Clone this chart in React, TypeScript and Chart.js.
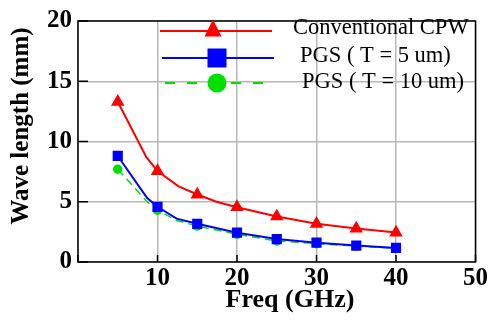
import React, { useEffect, useRef } from "react";
import { Chart, registerables } from "chart.js";

Chart.register(...registerables);

const xTicks = [0, 10, 20, 30, 40, 50];
const yTicks = [0, 5, 10, 15, 20];
const markerFreqs = [5, 10, 15, 20, 25, 30, 35, 40];

const seriesNames = ["Conventional CPW", "PGS ( T = 5 um)", "PGS ( T = 10 um)"];

const redFreq = [5, 8.6, 10, 12.6, 15, 17.4, 20, 25, 30, 35, 40];
const redWave = [13.3, 8.7, 7.55, 6.3, 5.6, 5.0, 4.55, 3.78, 3.17, 2.78, 2.45];

const blueFreq = [5, 8.7, 10, 12.4, 15, 20, 25, 30, 35, 40];
const blueWave = [8.8, 5.3, 4.58, 3.6, 3.17, 2.43, 1.9, 1.6, 1.36, 1.17];

const greenFreq = [5, 8.7, 10, 12.4, 15, 20, 25, 30, 35, 40];
const greenWave = [7.7, 5.0, 4.3, 3.45, 2.98, 2.3, 1.75, 1.52, 1.32, 1.13];

const RED = "#ff0000";
const BLUE = "#0000ff";
const GREEN = "#00e000";
const SERIF = '"Liberation Serif", "Times New Roman", serif';

function pts(xs: number[], ys: number[]) {
  return xs.map((x, i) => ({ x, y: ys[i] }));
}
function radii(xs: number[], r: number) {
  return xs.map((x) => (markerFreqs.includes(x) ? r : 0));
}

function marker(ctx: CanvasRenderingContext2D, style: string, cx: number, cy: number, size: number) {
  ctx.beginPath();
  if (style === "triangle") {
    const h = size;
    ctx.moveTo(cx, cy - h / 2);
    ctx.lineTo(cx + size / 2, cy + h / 2);
    ctx.lineTo(cx - size / 2, cy + h / 2);
    ctx.closePath();
  } else if (style === "rect") {
    ctx.rect(cx - size / 2, cy - size / 2, size, size);
  } else {
    ctx.arc(cx, cy, size / 2, 0, Math.PI * 2);
  }
  ctx.fill();
}

const decorPlugin = {
  id: "decor",
  beforeDatasetsDraw(chart: any) {
    const { ctx, chartArea } = chart;
    const { left, right, top, bottom } = chartArea;
    const xs = chart.scales.x;
    const ys = chart.scales.y;
    ctx.save();
    ctx.strokeStyle = "#000";
    ctx.lineWidth = 1.5;
    ctx.beginPath();
    for (const v of yTicks) {
      const y = ys.getPixelForValue(v);
      ctx.moveTo(left, y);
      ctx.lineTo(left + 10, y);
    }
    for (const v of xTicks) {
      const x = xs.getPixelForValue(v);
      ctx.moveTo(x, bottom);
      ctx.lineTo(x, bottom - 7);
    }
    ctx.stroke();
    ctx.strokeRect(left, top, right - left, bottom - top);
    ctx.restore();
  },
  afterDatasetsDraw(chart: any) {
    const { ctx } = chart;
    ctx.save();
    const rows = [
      { color: RED, dash: [] as number[], style: "triangle", size: 17, x1: 160, x2: 272, mx: 213, my: 28, ly: 31, text: seriesNames[0], tx: 293, ty: 34 },
      { color: BLUE, dash: [] as number[], style: "rect", size: 19, x1: 162, x2: 274, mx: 217, my: 58, ly: 58, text: seriesNames[1], tx: 300, ty: 62 },
      { color: GREEN, dash: [10, 12], style: "circle", size: 19, x1: 165, x2: 272, mx: 217, my: 83, ly: 83, text: seriesNames[2], tx: 302, ty: 88 },
    ];
    for (const row of rows) {
      ctx.strokeStyle = row.color;
      ctx.lineWidth = 2;
      ctx.setLineDash(row.dash);
      ctx.beginPath();
      ctx.moveTo(row.x1, row.ly);
      ctx.lineTo(row.x2, row.ly);
      ctx.stroke();
      ctx.setLineDash([]);
      ctx.fillStyle = row.color;
      marker(ctx, row.style, row.mx, row.my, row.size);
      ctx.fillStyle = "#000";
      ctx.font = `22.5px ${SERIF}`;
      ctx.textAlign = "left";
      ctx.textBaseline = "alphabetic";
      ctx.fillText(row.text, row.tx, row.ty);
    }
    ctx.fillStyle = "#000";
    ctx.font = `bold 26px ${SERIF}`;
    ctx.textAlign = "center";
    ctx.textBaseline = "middle";
    ctx.fillText("Freq (GHz)", 290, 300);
    ctx.save();
    ctx.translate(22, 126);
    ctx.rotate(-Math.PI / 2);
    ctx.font = `bold 25px ${SERIF}`;
    ctx.fillText("Wave length (mm)", 0, 0);
    ctx.restore();
    ctx.restore();
  },
};

export default function App() {
  const ref = useRef<HTMLCanvasElement>(null);
  useEffect(() => {
    document.body.style.margin = "0";
    if (!ref.current) return;
    const chart = new Chart(ref.current, {
      type: "line",
      data: {
        datasets: [
          {
            label: seriesNames[0],
            data: pts(redFreq, redWave),
            borderColor: RED,
            backgroundColor: RED,
            borderWidth: 2,
            pointStyle: "triangle",
            pointRadius: radii(redFreq, 5.8),
            tension: 0,
          },
          {
            label: seriesNames[1],
            data: pts(blueFreq, blueWave),
            borderColor: BLUE,
            backgroundColor: BLUE,
            borderWidth: 2,
            pointStyle: "rect",
            pointRadius: radii(blueFreq, 5.8),
            tension: 0,
          },
          {
            label: seriesNames[2],
            data: pts(greenFreq, greenWave),
            borderColor: GREEN,
            backgroundColor: GREEN,
            borderWidth: 1.5,
            borderDash: [8, 5],
            pointStyle: "circle",
            pointRadius: radii(greenFreq, 4),
            tension: 0,
          },
        ],
      },
      options: {
        responsive: false,
        animation: false,
        events: [],
        layout: { padding: { top: 12, right: 13, left: 0, bottom: 0 } },
        plugins: { legend: { display: false }, tooltip: { enabled: false } },
        scales: {
          x: {
            type: "linear",
            min: 0,
            max: 50,
            afterFit: (s: any) => {
              s.height = 60;
            },
            afterBuildTicks: (s: any) => {
              s.ticks = xTicks.map((v) => ({ value: v }));
            },
            ticks: {
              color: "#000",
              padding: 2,
              font: { family: SERIF, size: 25, weight: "bold" },
              callback: (v: any) => (v === 0 ? "" : String(v)),
              maxRotation: 0,
            },
            grid: { color: "#b8b8b8", lineWidth: 1.5, drawTicks: false },
            border: { display: false },
          },
          y: {
            type: "linear",
            min: 0,
            max: 20,
            afterFit: (s: any) => {
              s.width = 78;
            },
            afterBuildTicks: (s: any) => {
              s.ticks = yTicks.map((v) => ({ value: v }));
            },
            ticks: {
              color: "#000",
              padding: 6,
              font: { family: SERIF, size: 25, weight: "bold" },
              callback: (v: any) => String(v),
            },
            grid: { color: "#b8b8b8", lineWidth: 1.5, drawTicks: false },
            border: { display: false },
          },
        },
      },
      plugins: [decorPlugin],
    } as any);
    return () => chart.destroy();
  }, []);
  return (
    <div style={{ width: 490, height: 322 }}>
      <canvas ref={ref} width={490} height={322} />
    </div>
  );
}
